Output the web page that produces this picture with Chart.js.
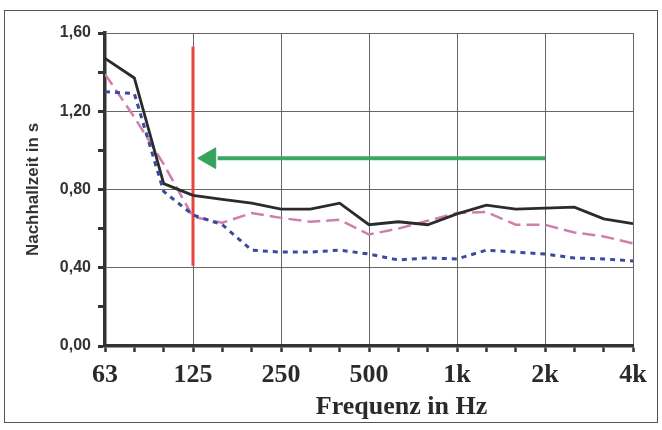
<!DOCTYPE html>
<html>
<head>
<meta charset="utf-8">
<script src="https://cdn.jsdelivr.net/npm/chart.js@4"></script>
<style>
  html, body { margin: 0; padding: 0; background: #fff; }
  #wrap { position: relative; width: 662px; height: 430px; }
  #frame { position: absolute; left: 4px; top: 10px; width: 652px; height: 411px; border: 1.5px solid #555; pointer-events: none; }
  canvas { position: absolute; left: 0; top: 0; }
</style>
</head>
<body>
<div id="wrap">
  <canvas id="c" width="662" height="430"></canvas>
  <div id="frame"></div>
</div>
<script>
// third-octave bands, 63 Hz .. 4 kHz (index 0..18)
const bands = ['63','80','100','125','160','200','250','315','400','500','630','800','1k','1,25k','1,6k','2k','2,5k','3,15k','4k'];
const tickLabels = ['63','125','250','500','1k','2k','4k'];   // shown at every 3rd band
const yTicks = [0, 0.4, 0.8, 1.2, 1.6];

const blackSeries = [1.47,1.37,0.83,0.77,0.75,0.73,0.70,0.70,0.73,0.62,0.635,0.62,0.675,0.72,0.70,0.705,0.71,0.65,0.625];
const pinkSeries  = [1.39,1.17,0.93,0.66,0.63,0.68,0.655,0.635,0.645,0.57,0.60,0.64,0.68,0.685,0.62,0.62,0.58,0.56,0.525];
const blueSeries  = [1.30,1.29,0.79,0.67,0.62,0.49,0.48,0.48,0.49,0.47,0.44,0.45,0.445,0.49,0.48,0.47,0.45,0.445,0.435];

// marker: red vertical line at 125 Hz, green arrow from 2 kHz toward 125 Hz
const redLine   = [{x:3, y:0.41}, {x:3, y:1.53}];
const arrowLine = [{x:3.84, y:0.96}, {x:15, y:0.96}];
const arrowHead = [{x:3.57, y:0.96}];

const toXY = arr => arr.map((v, i) => ({x: i, y: v}));

new Chart(document.getElementById('c'), {
  type: 'line',
  data: {
    datasets: [
      { data: toXY(blueSeries), borderColor: '#3a4a9e', borderWidth: 3, borderDash: [5,5], pointRadius: 0, tension: 0 },
      { data: toXY(blackSeries), borderColor: '#2b2b2b', borderWidth: 2.8, pointRadius: 0, tension: 0 },
      { data: toXY(pinkSeries), borderColor: '#cf7fab', borderWidth: 2.5, borderDash: [13,6], pointRadius: 0, tension: 0 },
      { data: redLine, borderColor: '#e8443c', borderWidth: 3, pointRadius: 0 },
      { data: arrowLine, borderColor: '#3aa862', borderWidth: 4, pointRadius: 0 },
      { data: arrowHead, showLine: false, pointStyle: 'triangle', rotation: -90, pointRadius: 12,
        pointBackgroundColor: '#35a35c', pointBorderColor: '#35a35c', pointBorderWidth: 1 }
    ]
  },
  options: {
    responsive: false,
    animation: false,
    events: [],
    layout: { padding: { left: 0, right: 29, top: 33, bottom: 0 } },
    plugins: { legend: { display: false }, tooltip: { enabled: false } },
    scales: {
      x: {
        type: 'linear', min: 0, max: bands.length - 1,
        afterFit: s => { s.height = 84; },
        ticks: {
          stepSize: 1, autoSkip: false, maxRotation: 0, padding: 8,
          color: '#2a2a2a',
          font: { family: '"Liberation Serif", "Times New Roman", serif', size: 26, weight: 'bold' },
          callback: v => (v % 3 === 0 ? tickLabels[v / 3] : '')
        },
        grid: {
          color: c => (c.tick && c.tick.value % 3 === 0 ? '#666' : 'rgba(0,0,0,0)'),
          lineWidth: 1, tickColor: '#333', tickLength: 6, tickWidth: 2.5
        },
        border: { color: '#333', width: 3.5 },
        title: {
          display: true, text: '\u2003\u2003\u2002Frequenz in Hz', color: '#2a2a2a',
          font: { family: '"Liberation Serif", "Times New Roman", serif', size: 26, weight: 'bold' },
          padding: { top: 0, bottom: 7 }
        }
      },
      y: {
        type: 'linear', min: 0, max: 1.6,
        afterFit: s => { s.width = 105; },
        ticks: {
          stepSize: 0.2, padding: 7, color: '#333',
          font: { family: '"Liberation Sans", Arial, sans-serif', size: 16, weight: 'bold' },
          callback: v => (Math.round(v * 10) % 4 === 0 ? v.toFixed(2).replace('.', ',') : '')
        },
        grid: {
          color: c => (c.tick && Math.round(c.tick.value * 10) % 4 === 0 ? '#666' : 'rgba(0,0,0,0)'),
          lineWidth: 1, tickColor: '#333', tickLength: 7, tickWidth: 3
        },
        border: { color: '#333', width: 3.5 },
        title: {
          display: true, text: 'Nachhallzeit in s', color: '#333',
          font: { family: '"Liberation Sans", Arial, sans-serif', size: 17, weight: 'bold' },
          padding: { top: 23, bottom: 0 }
        }
      }
    }
  }
});
</script>
</body>
</html>
